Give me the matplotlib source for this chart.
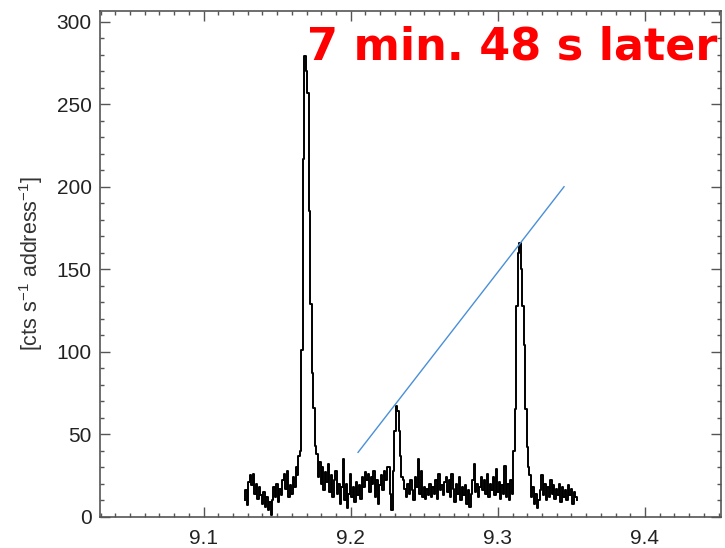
import numpy as np
import matplotlib
matplotlib.use("Agg")
import matplotlib.pyplot as plt

plt.rcParams['font.family'] = ['Liberation Sans', 'DejaVu Sans']
plt.rcParams['mathtext.fontset'] = 'custom'
plt.rcParams['mathtext.rm'] = 'Liberation Sans'
plt.rcParams['mathtext.it'] = 'Liberation Sans'

# spectrum: counts per 0.001 bin, starting at 9.128
wl_start = 9.128
wl_step = 0.001
counts = [
    10, 16, 7, 21, 25, 19, 26, 14, 20, 11,
    18, 13, 8, 15, 6, 12, 4, 9, 1, 10,
    18, 12, 20, 9, 17, 13, 22, 26, 17, 28,
    12, 19, 14, 24, 18, 30, 25, 37, 40, 101,
    217, 279, 270, 257, 185, 129, 87, 66, 43, 38,
    24, 33, 20, 30, 16, 27, 21, 32, 15, 25,
    12, 22, 28, 14, 20, 8, 18, 35, 10, 20,
    5, 14, 26, 12, 18, 9, 21, 13, 19, 11,
    24, 18, 27, 22, 26, 15, 24, 20, 28, 12,
    22, 8, 19, 25, 16, 28, 22, 30, 30, 14,
    4, 28, 52, 67, 64, 52, 37, 24, 22, 17,
    12, 20, 14, 22, 16, 10, 24, 18, 35, 14,
    28, 12, 18, 11, 17, 13, 20, 12, 18, 14,
    22, 11, 26, 16, 19, 13, 21, 24, 15, 22,
    12, 26, 17, 9, 20, 14, 24, 10, 18, 13,
    19, 8, 16, 6, 14, 22, 32, 15, 20, 12,
    18, 24, 16, 22, 14, 26, 12, 20, 16, 24,
    13, 29, 15, 21, 11, 19, 14, 31, 12, 20,
    10, 22, 14, 40, 65, 128, 160, 166, 150, 128,
    104, 65, 42, 30, 25, 12, 18, 8, 14, 5,
    10, 16, 25, 13, 20, 10, 18, 12, 22, 14,
    19, 11, 17, 13, 20, 9, 18, 12, 16, 10,
    19, 13, 17, 8, 15, 12, 10,
]
wl = wl_start + wl_step * np.arange(len(counts))

# blue guide line through the peaks
line_x = [9.205, 9.345]
line_y = [39, 200]

xticks = [9.1, 9.2, 9.3, 9.4]
yticks = [0, 50, 100, 150, 200, 250, 300]

fig = plt.figure(figsize=(7.25, 5.48), dpi=100)
ax = fig.add_axes([0.1379, 0.0571, 0.8566, 0.9228])

ax.step(wl, counts, where='mid', color='black', lw=1.4)
ax.plot(line_x, line_y, color='#4a8fd8', lw=1.0)

ax.set_xlim(9.0296, 9.4517)
ax.set_ylim(0, 306.5)
ax.set_xticks(xticks)
ax.set_xticklabels([str(t) for t in xticks])
ax.set_yticks(yticks)
ax.set_xticks(np.arange(9.03, 9.455, 0.01), minor=True)
ax.set_yticks(np.arange(0, 306, 10), minor=True)

ax.tick_params(which='both', direction='in', top=True, right=True,
               color='#555555', labelcolor='#222222', labelsize=15)
ax.tick_params(which='major', length=7, width=1.0)
ax.tick_params(which='minor', length=3, width=1.0)
ax.tick_params(axis='x', pad=9)
ax.tick_params(axis='y', pad=6)
for s in ax.spines.values():
    s.set_color('#555555')
    s.set_linewidth(1.2)

ax.set_ylabel("[cts s$^{-1}$ address$^{-1}$]", fontsize=15.5, color='#333333', labelpad=8)

fig.text(0.989, 0.892, "7 min. 48 s later", color='red', fontsize=32,
         fontweight='bold', family=['DejaVu Sans'], ha='right', va='baseline')

fig.savefig("out.png", dpi=100)
